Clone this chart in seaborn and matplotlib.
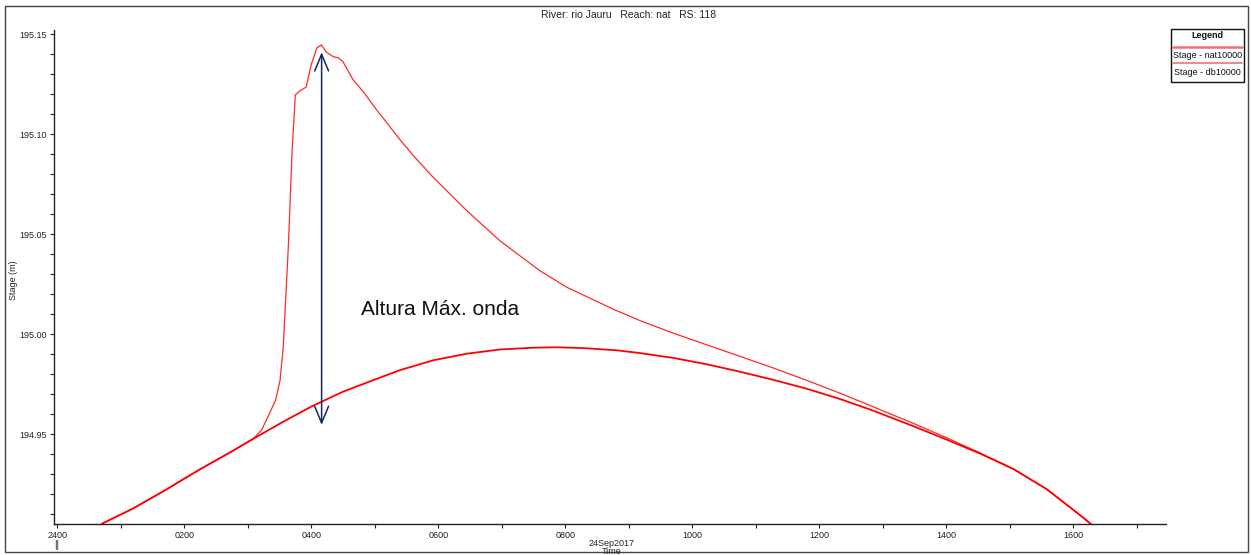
import matplotlib
matplotlib.use("Agg")
import matplotlib.pyplot as plt
from matplotlib.patches import Rectangle
from matplotlib.lines import Line2D
from matplotlib.ticker import MultipleLocator, FixedLocator, FixedFormatter, FormatStrFormatter
import seaborn as sns
import pandas as pd

# ---- data (hours after 2400 on 23Sep2017, stage in m) ----
nat_time = [0.70, 1.20, 1.72, 2.00, 2.25, 2.77, 3.09, 3.56, 4.01, 4.50, 4.98, 5.40,
            5.92, 6.45, 6.97, 7.50, 7.87, 8.28, 8.81, 9.18, 9.70, 10.23, 10.75,
            11.28, 11.80, 12.33, 12.80, 13.48, 14.01, 14.53, 15.06, 15.58, 16.11, 16.34]
nat_stage = [194.9052, 194.9130, 194.9224, 194.9278, 194.9325, 194.9418, 194.9478,
             194.9563, 194.9640, 194.9713, 194.9771, 194.9821, 194.9870, 194.9903,
             194.9924, 194.9933, 194.9935, 194.9931, 194.9920, 194.9906, 194.9882,
             194.9850, 194.9813, 194.9772, 194.9728, 194.9676, 194.9624, 194.9541,
             194.9473, 194.9404, 194.9326, 194.9226, 194.9095, 194.9035]

db_time = [0.70, 1.20, 1.72, 2.00, 2.25, 2.77, 3.09, 3.22, 3.32, 3.44, 3.51, 3.56,
           3.64, 3.70, 3.75, 3.82, 3.92, 4.00, 4.09, 4.16, 4.24, 4.35, 4.43, 4.50,
           4.66, 4.82, 5.03, 5.19, 5.40, 5.61, 5.92, 6.45, 6.97, 7.60, 8.02, 8.76,
           9.18, 9.70, 10.23, 10.75, 11.28, 11.80, 12.33, 12.96, 13.48, 14.01,
           14.53, 15.06, 15.58, 16.11, 16.34]
db_stage = [194.9052, 194.9130, 194.9224, 194.9278, 194.9325, 194.9418, 194.9478,
            194.9522, 194.9588, 194.9672, 194.9771, 194.9938, 195.0438, 195.0921,
            195.1197, 195.1217, 195.1236, 195.1347, 195.1433, 195.1447, 195.1410,
            195.1388, 195.1382, 195.1363, 195.1272, 195.1213, 195.1122, 195.1058,
            195.0972, 195.0893, 195.0785, 195.0618, 195.0468, 195.0318, 195.0236,
            195.0125, 195.0068, 195.0006, 194.9947, 194.9890, 194.9831, 194.9770,
            194.9705, 194.9623, 194.9555, 194.9482, 194.9407, 194.9326, 194.9226,
            194.9095, 194.9035]

series_names = ["Stage - nat10000", "Stage - db10000"]
x_tick_hours = [0, 2, 4, 6, 8, 10, 12, 14, 16]
x_tick_labels = ["2400", "0200", "0400", "0600", "0800", "1000", "1200", "1400", "1600"]

arrow_time = 4.164
arrow_top = 195.141
arrow_bottom = 194.9547
annot_text = "Altura Máx. onda"
title_text = "River: rio Jauru   Reach: nat   RS: 118"

# ---- figure ----
sns.set_style("white")
plt.rcParams["font.family"] = ["Liberation Sans", "DejaVu Sans"]

fig = plt.figure(figsize=(12.51, 5.55), dpi=100)
ax = fig.add_axes([54 / 1251, 1 - 524 / 555, (1166 - 54) / 1251, (524 - 30) / 555])

df_nat = pd.DataFrame({"time": nat_time, "stage": nat_stage})
df_db = pd.DataFrame({"time": db_time, "stage": db_stage})
sns.lineplot(data=df_db, x="time", y="stage", ax=ax, color="#ff2a2a", lw=0.9,
             sort=False, estimator=None, solid_joinstyle="round")
sns.lineplot(data=df_nat, x="time", y="stage", ax=ax, color="#ff0000", lw=1.3,
             sort=False, estimator=None, solid_joinstyle="round")

ax.set_xlim(-0.05, 17.46)
ax.set_ylim(194.90515, 195.15215)

for s in ["top", "right"]:
    ax.spines[s].set_visible(False)
for s in ["left", "bottom"]:
    ax.spines[s].set_color("#222222")
    ax.spines[s].set_linewidth(1.0)

ax.xaxis.set_major_locator(FixedLocator(x_tick_hours))
ax.xaxis.set_major_formatter(FixedFormatter(x_tick_labels))
ax.xaxis.set_minor_locator(MultipleLocator(1))
ax.yaxis.set_major_locator(MultipleLocator(0.05))
ax.yaxis.set_major_formatter(FormatStrFormatter("%.2f"))
ax.yaxis.set_minor_locator(MultipleLocator(0.01))
ax.tick_params(axis="both", which="both", direction="out", length=3, width=0.8,
               color="#222222", labelsize=6.5, labelcolor="#222222", pad=2,
               bottom=True, left=True)
ax.set_xlabel("")
ax.set_ylabel("")

# annotation
ax.annotate("", xy=(arrow_time, arrow_top), xytext=(arrow_time, arrow_bottom),
            arrowprops=dict(arrowstyle="<->,head_length=0.6,head_width=0.25",
                            color="#14285a", lw=1.1, shrinkA=0, shrinkB=0,
                            mutation_scale=20))
ax.text(4.78, 195.0122, annot_text, fontsize=15, color="#111111",
        va="center", ha="left")

# texts around
fig.text(629 / 1251, 1 - 15 / 555, title_text, fontsize=7.5, ha="center",
         va="center", color="#222222")
fig.text(14 / 1251, 1 - 280 / 555, "Stage (m)", fontsize=6.5, rotation=90,
         ha="center", va="center", color="#222222")
fig.text(612 / 1251, 1 - 543 / 555, "24Sep2017", fontsize=6.5, ha="center",
         va="center", color="#222222")
fig.text(612 / 1251, 1 - 551 / 555, "Time", fontsize=6.5, ha="center",
         va="center", color="#222222")
fig.text(57 / 1251, 1 - 545 / 555, "||", fontsize=7, ha="center",
         va="center", color="#222222")

# outer frame
fig.patches.append(Rectangle((5 / 1251, 1 - 552 / 555), (1248 - 5) / 1251,
                             (552 - 6) / 555, transform=fig.transFigure,
                             fill=False, edgecolor="#444444", lw=1.0))

# legend box
lx0, lx1 = 1171 / 1251, 1244 / 1251
ly_top, ly_bot = 1 - 29 / 555, 1 - 82 / 555
fig.patches.append(Rectangle((lx0, ly_bot), lx1 - lx0, ly_top - ly_bot,
                             transform=fig.transFigure, fill=False,
                             edgecolor="#111111", lw=1.0))
fig.text((lx0 + lx1) / 2, 1 - 35.5 / 555, "Legend", fontsize=6.5,
         fontweight="bold", ha="center", va="center", color="#111111")
fig.lines.append(Line2D([lx0 + 0.0015, lx1 - 0.0015], [1 - 46.5 / 555] * 2,
                        transform=fig.transFigure, color="#f07070", lw=1.8))
fig.text((lx0 + lx1) / 2, 1 - 55.5 / 555, series_names[0], fontsize=6.5,
         ha="center", va="center", color="#111111")
fig.lines.append(Line2D([lx0 + 0.0015, lx1 - 0.0015], [1 - 63.5 / 555] * 2,
                        transform=fig.transFigure, color="#f08888", lw=1.4))
fig.text((lx0 + lx1) / 2, 1 - 72.5 / 555, series_names[1], fontsize=6.5,
         ha="center", va="center", color="#111111")

fig.savefig("out.png", dpi=100)
